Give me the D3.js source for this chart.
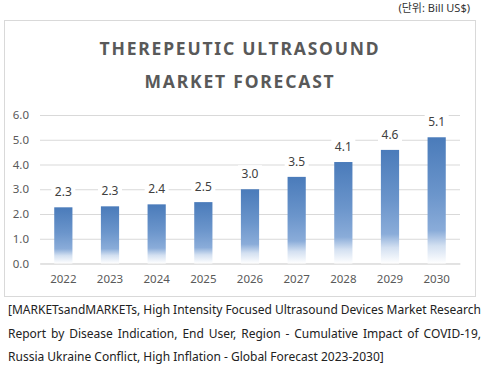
<!DOCTYPE html>
<html><head><meta charset="utf-8">
<script src="https://cdn.jsdelivr.net/npm/d3@7"></script>
<style>
html,body{margin:0;padding:0;background:#fff;}
svg{display:block;font-family:"Noto Sans","Noto Sans CJK KR",sans-serif;}
</style></head>
<body>
<svg id="chart" width="484" height="368"></svg>
<script>
const years = ["2022","2023","2024","2025","2026","2027","2028","2029","2030"];
const values = [2.27, 2.31, 2.39, 2.48, 3.0, 3.5, 4.1, 4.59, 5.1];
const valueLabels = ["2.3","2.3","2.4","2.5","3.0","3.5","4.1","4.6","5.1"];
const yTicks = [0,1,2,3,4,5,6];
const titleLines = ["THEREPEUTIC ULTRASOUND","MARKET FORECAST"];
const unitLabel = "(단위: Bill US$)";
const sourceLines = [
  "[MARKETsandMARKETs, High Intensity Focused Ultrasound Devices Market Research",
  "Report by Disease Indication, End User, Region - Cumulative Impact of COVID-19,",
  "Russia Ukraine Conflict, High Inflation - Global Forecast 2023-2030]"
];

const svg = d3.select("#chart");
const defs = svg.append("defs");
const grad = defs.append("linearGradient").attr("id","barGrad")
  .attr("x1",0).attr("y1",0).attr("x2",0).attr("y2",1);
grad.append("stop").attr("offset","0%").attr("stop-color","#4a7bba");
grad.append("stop").attr("offset","45%").attr("stop-color","#6b95cb");
grad.append("stop").attr("offset","74%").attr("stop-color","#8aacd9");
grad.append("stop").attr("offset","86%").attr("stop-color","#d3e0f1");
grad.append("stop").attr("offset","100%").attr("stop-color","#ffffff");

// unit label
svg.append("text").attr("x",470).attr("y",12).attr("text-anchor","end")
  .attr("font-size",11).attr("fill","#333").text(unitLabel);

// chart border
svg.append("rect").attr("x",4.5).attr("y",20.5).attr("width",471).attr("height",276)
  .attr("fill","#fff").attr("stroke","#d9d9d9");

// title
svg.selectAll(".title").data(titleLines).enter().append("text")
  .attr("class","title")
  .attr("x",240).attr("y",(d,i)=>55+i*33)
  .attr("text-anchor","middle").attr("font-size",17.5).attr("font-weight","bold")
  .attr("letter-spacing","1.8px")
  .attr("fill","#595959").text(d=>d);

const x = d3.scaleBand().domain(years).range([40,460]).paddingInner(0.61).paddingOuter(0.305);
const y = d3.scaleLinear().domain([0,6]).range([263.5,115]);

// grid
const yAxis = d3.axisLeft(y).tickValues(yTicks).tickFormat(d3.format(".1f"))
  .tickSize(-420).tickPadding(10);
const gy = svg.append("g").attr("transform","translate(40,0)").call(yAxis);
gy.select(".domain").remove();
gy.selectAll(".tick line").attr("stroke","#d9d9d9");
gy.selectAll(".tick text").attr("font-size",11.5).attr("fill","#595959").attr("x",-11)
  .attr("font-family","'Noto Sans',sans-serif");

// x axis
const xAxis = d3.axisBottom(x).tickSize(0).tickPadding(11);
const gx = svg.append("g").attr("transform",`translate(0,${y(0)})`).call(xAxis);
gx.select(".domain").attr("stroke","#d9d9d9");
gx.selectAll(".tick text").attr("font-size",11.5).attr("fill","#595959")
  .attr("font-family","'Noto Sans',sans-serif");

// bars
svg.selectAll(".bar").data(values).enter().append("rect").attr("class","bar")
  .attr("x",(d,i)=>x(years[i])).attr("width",x.bandwidth())
  .attr("y",d=>y(d)).attr("height",d=>y(0)-y(d)).attr("fill","url(#barGrad)");

// value labels
const lg = svg.selectAll(".vl").data(values).enter().append("g").attr("class","vl");
lg.append("rect").attr("x",(d,i)=>x(years[i])+x.bandwidth()/2-12).attr("width",24)
  .attr("y",d=>y(d)-24).attr("height",16).attr("fill","#fff");
lg.append("text").attr("x",(d,i)=>x(years[i])+x.bandwidth()/2).attr("y",d=>y(d)-11)
  .attr("text-anchor","middle").attr("font-size",12).attr("fill","#404040")
  .text((d,i)=>valueLabels[i]);

// source text (justified first two lines)
sourceLines.forEach((line,li)=>{
  const yy = 314 + li*23.5;
  const t = svg.append("text").attr("y",yy).attr("font-size",12).attr("fill","#222");
  const words = line.split(" ");
  if (li < 2) {
    const spans = words.map(w=>t.append("tspan").text(w));
    const widths = spans.map(s=>s.node().getComputedTextLength());
    const total = d3.sum(widths);
    const left = 8, right = 481;
    const gap = (right-left-total)/(words.length-1);
    let cx = left;
    spans.forEach((s,k)=>{ s.attr("x",cx); cx += widths[k]+gap; });
  } else {
    t.attr("x",8).text(line);
  }
});
</script>
</body></html>
